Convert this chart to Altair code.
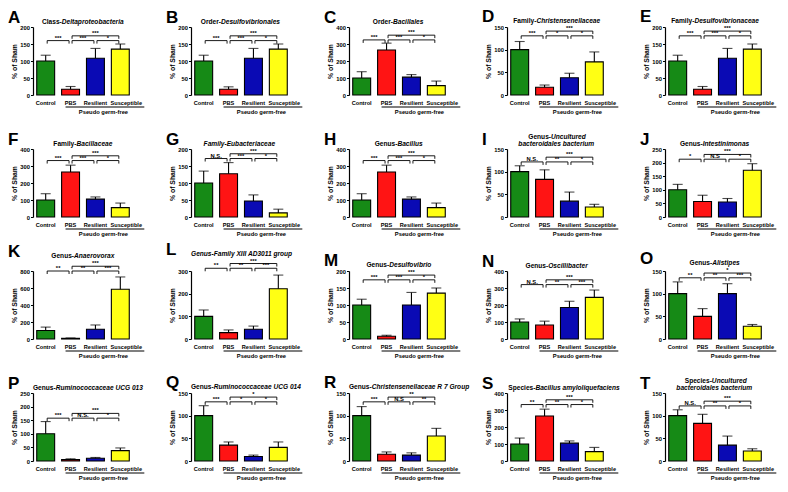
import altair as alt
import pandas as pd

CATS = ["Control", "PBS", "Resilient", "Susceptible"]
COLORS = ["#168a16", "#ff1414", "#0a0ab4", "#ffff14"]
LETTERS = list("ABCDEFGHIJKLMNOPQRST")
PREFIX = ["Class-", "Order-", "Order-", "Family-", "Family-", "Family-", "", "Genus-",
          "Genus-", "Genus-", "Genus-", "", "Genus-", "Genus-", "Genus-", "Genus-",
          "Genus-", "Genus-", "Species-", "Species-"]
NAMES = ["Deltaproteobacteria", "Desulfovibrionales", "Bacillales", "Christensenellaceae",
         "Desulfovibrionaceae", "Bacillaceae", "Family-Eubacteriaceae", "Bacillus",
         "Uncultured|bacteroidales bacterium", "Intestinimonas", "Anaerovorax",
         "Genus-Family XIII  AD3011 group", "Desulfovibrio", "Oscillibacter", "Alistipes",
         "Ruminococcaceae UCG 013", "Ruminococcaceae UCG 014",
         "Christensenellaceae R 7 Group", "Bacillus amyloliquefaciens",
         "Uncultured|bacteroidales bacterium"]
YMAX = [200, 200, 400, 150, 200, 400, 200, 400, 150, 250,
        800, 300, 200, 400, 150, 250, 150, 150, 400, 150]
YSTEP = [50, 50, 100, 50, 50, 100, 50, 100, 50, 50,
         200, 100, 50, 100, 50, 50, 50, 50, 100, 50]
MEANS = [
    [100, 17, 108, 135], [100, 17, 108, 135], [100, 265, 105, 55], [100, 17, 38, 73],
    [100, 17, 108, 135], [100, 265, 105, 55], [100, 127, 47, 12], [100, 265, 105, 55],
    [100, 83, 35, 22], [100, 57, 55, 172], [100, 8, 115, 585], [100, 28, 43, 222],
    [100, 8, 100, 135], [100, 82, 185, 245], [100, 50, 100, 28], [100, 5, 10, 38],
    [100, 35, 10, 30], [100, 15, 13, 55], [100, 265, 105, 55], [100, 83, 35, 22],
]
UPPER = [
    [117, 25, 137, 150], [117, 24, 137, 150], [137, 305, 120, 82], [118, 22, 48, 95],
    [117, 25, 137, 150], [137, 305, 118, 82], [135, 160, 65, 23], [137, 305, 118, 82],
    [113, 104, 55, 28], [120, 80, 68, 196], [140, 12, 165, 730], [128, 40, 57, 282],
    [117, 11, 137, 150], [118, 105, 222, 288], [126, 67, 122, 32], [145, 8, 13, 48],
    [122, 42, 13, 42], [120, 20, 18, 72], [135, 305, 118, 80], [113, 103, 55, 27],
]
# significance: Control-PBS, PBS-Resilient, Resilient-Susceptible, PBS-Susceptible
SIG = [
    ["***", "***", "*", "***"], ["***", "***", "*", "***"], ["***", "***", "*", "***"],
    ["***", "*", "*", "***"], ["***", "***", "*", "***"], ["***", "***", "*", "***"],
    ["N.S.", "***", "*", "***"], ["***", "***", "*", "***"], ["N.S.", "**", "*", "***"],
    ["*", "N.S", "*", "***"], ["**", "**", "***", "***"], ["**", "**", "***", "***"],
    ["***", "***", "*", "***"], ["N.S.", "**", "***", "***"], ["**", "**", "***", "*"],
    ["***", "N.S.", "*", "***"], ["***", "*", "*", "*"], ["***", "N.S", "**", "**"],
    ["**", "**", "*", "***"], ["N.S.", "**", "*", "***"],
]
LEVEL = [0.80, 0.80, 0.81, 0.87, 0.87, 0.83, 0.86, 0.83, 0.81, 0.85,
         1.00, 1.04, 0.87, 0.80, 0.90, 0.63, 0.87, 0.87, 0.83, 0.81]
PAIRS = [(0, 1), (1, 2), (2, 3), (1, 3)]

FONT = "Liberation Sans"
W, H = 100, 68
PAD_IN, PAD_OUT = 0.28, 0.15
STEP = W / (4 - PAD_IN + 2 * PAD_OUT)
ONE = pd.DataFrame({"k": [0]})
TFS = 6.6


def text_width(s, fs):
    w = 0.0
    for ch in s:
        if ch in "ijlI.|' ":
            w += 0.28
        elif ch in "ftr-":
            w += 0.36
        elif ch in "mwMW":
            w += 0.89
        elif ch.isupper():
            w += 0.72
        else:
            w += 0.59
    return w * fs


def label(text, x, y, align="left", size=TFS, style="normal", weight="bold"):
    return alt.Chart(ONE).mark_text(
        text=text, align=align, baseline="alphabetic", fontSize=size,
        fontStyle=style, fontWeight=weight, font=FONT, color="black"
    ).encode(x=alt.value(x), y=alt.value(y))


def title_line(prefix, name, y, fs=TFS):
    wp = text_width(prefix, fs)
    wn = text_width(name, fs)
    start = max(W / 2 - (wp + wn) / 2, 0.0)
    split = start + wp
    out = []
    if prefix:
        out.append(label(prefix, split, y, align="right", size=fs))
    out.append(label(name, split, y, align="left", size=fs, style="italic"))
    return out


def panel(k):
    ymax, ystep = YMAX[k], YSTEP[k]
    lv1 = LEVEL[k] * ymax
    lv2 = (LEVEL[k] + 0.07) * ymax
    extra = max(0.0, LEVEL[k] + 0.14 - 1.0) * H
    ysc = alt.Scale(domain=[0, ymax], nice=False, zero=True)
    xsc = alt.Scale(domain=CATS, paddingInner=PAD_IN, paddingOuter=PAD_OUT)
    yaxis = alt.Axis(values=list(range(0, ymax + 1, ystep)), domain=True,
                     domainColor="black", domainWidth=1.2,
                     title="% of Sham", titleFontSize=6.8, titleFontWeight="bold",
                     titleFont=FONT, titleColor="black", titlePadding=2,
                     labelFontSize=5.8, labelFontWeight="bold", labelFont=FONT,
                     labelColor="black", labelPadding=1, tickSize=2.5,
                     tickColor="black", tickWidth=1, grid=False)

    def Y(field):
        return alt.Y(field, scale=ysc, axis=yaxis)

    df = pd.DataFrame({"cat": CATS, "mean": MEANS[k], "upper": UPPER[k]})
    base = alt.Chart(df)
    bars = base.mark_bar(stroke="black", strokeWidth=1.1).encode(
        x=alt.X("cat:N", scale=xsc, sort=CATS,
                axis=alt.Axis(labels=False, ticks=False, title=None, domainColor="black",
                              domainWidth=1.2)),
        y=Y("mean:Q"),
        color=alt.Color("cat:N", scale=alt.Scale(domain=CATS, range=COLORS), legend=None),
    )
    xn = alt.X("cat:N", scale=xsc, axis=None)
    err = base.mark_rule(color="black", strokeWidth=1.1).encode(
        x=xn, y=Y("mean:Q"), y2="upper:Q")
    cap = base.mark_tick(color="black", thickness=1.1, size=10).encode(
        x=xn, y=Y("upper:Q"))

    br = pd.DataFrame({
        "c1": [CATS[i] for i, j in PAIRS],
        "c2": [CATS[j] for i, j in PAIRS],
        "lvl": [lv1, lv1, lv1, lv2],
        "lab": SIG[k],
        "span": [j - i for i, j in PAIRS],
    })
    bb = alt.Chart(br)
    hline = bb.mark_rule(color="black", strokeWidth=0.9, xOffset=1.5, x2Offset=-1.5).encode(
        x=alt.X("c1:N", scale=xsc, axis=None), x2="c2:N", y=Y("lvl:Q"))
    legl = bb.mark_rule(color="black", strokeWidth=0.9, xOffset=1.5, y2Offset=3).encode(
        x=alt.X("c1:N", scale=xsc, axis=None), y=Y("lvl:Q"), y2="lvl:Q")
    legr = bb.mark_rule(color="black", strokeWidth=0.9, xOffset=-1.5, y2Offset=3).encode(
        x=alt.X("c2:N", scale=xsc, axis=None), y=Y("lvl:Q"), y2="lvl:Q")
    t1 = bb.transform_filter("datum.span == 1").mark_text(
        xOffset=STEP / 2, dy=-1, baseline="alphabetic", fontSize=5.8, fontWeight="bold",
        font=FONT, color="black").encode(
        x=alt.X("c1:N", scale=xsc, axis=None), y=Y("lvl:Q"), text="lab:N")
    t2 = bb.transform_filter("datum.span == 2").mark_text(
        xOffset=STEP, dy=-1, baseline="alphabetic", fontSize=5.8, fontWeight="bold",
        font=FONT, color="black").encode(
        x=alt.X("c1:N", scale=xsc, axis=None), y=Y("lvl:Q"), text="lab:N")

    xl1 = base.transform_filter("datum.cat != 'Susceptible'").mark_text(
        baseline="alphabetic", fontSize=5.6, fontWeight="bold", font=FONT, color="black").encode(
        x=xn, y=alt.value(H + 9.5), text="cat:N")
    xl2 = base.transform_filter("datum.cat == 'Susceptible'").mark_text(
        baseline="alphabetic", fontSize=5.6, fontWeight="bold", font=FONT, color="black",
        dx=6).encode(x=xn, y=alt.value(H + 9.5), text="cat:N")

    grp = pd.DataFrame({"a": ["PBS"], "b": ["Susceptible"], "c": ["Resilient"]})
    uline = alt.Chart(grp).mark_rule(color="black", strokeWidth=1.2, xOffset=-5,
                                     x2Offset=24).encode(
        x=alt.X("a:N", scale=xsc, axis=None), x2="b:N", y=alt.value(H + 12))
    pseudo = alt.Chart(grp).mark_text(
        text="Pseudo germ-free", baseline="alphabetic", fontSize=5.8, fontWeight="bold",
        font=FONT, color="black", xOffset=8).encode(
        x=alt.X("c:N", scale=xsc, axis=None), y=alt.value(H + 19))

    letter = alt.Chart(ONE).mark_text(
        text=LETTERS[k], align="left", baseline="alphabetic", fontSize=17,
        fontWeight="bold", font=FONT, color="black").encode(
        x=alt.value(-25), y=alt.value(-4 - extra))

    name = NAMES[k]
    if "|" in name:
        first, second = name.split("|")
        titles = (title_line(PREFIX[k], first, -10 - extra)
                  + title_line("", second, -3 - extra))
    else:
        titles = title_line(PREFIX[k], name, -3 - extra)

    return alt.layer(bars, err, cap, hline, legl, legr, t1, t2, xl1, xl2,
                     uline, pseudo, letter, *titles).properties(width=W, height=H)


chart = alt.concat(*[panel(k) for k in range(20)], columns=5,
                   spacing={"row": 54, "column": 58}, bounds="flush").configure(
    font=FONT, background="white", padding=0).configure_view(stroke=None)

chart.save("out.html", embed_options={"renderer": "svg", "actions": False})
